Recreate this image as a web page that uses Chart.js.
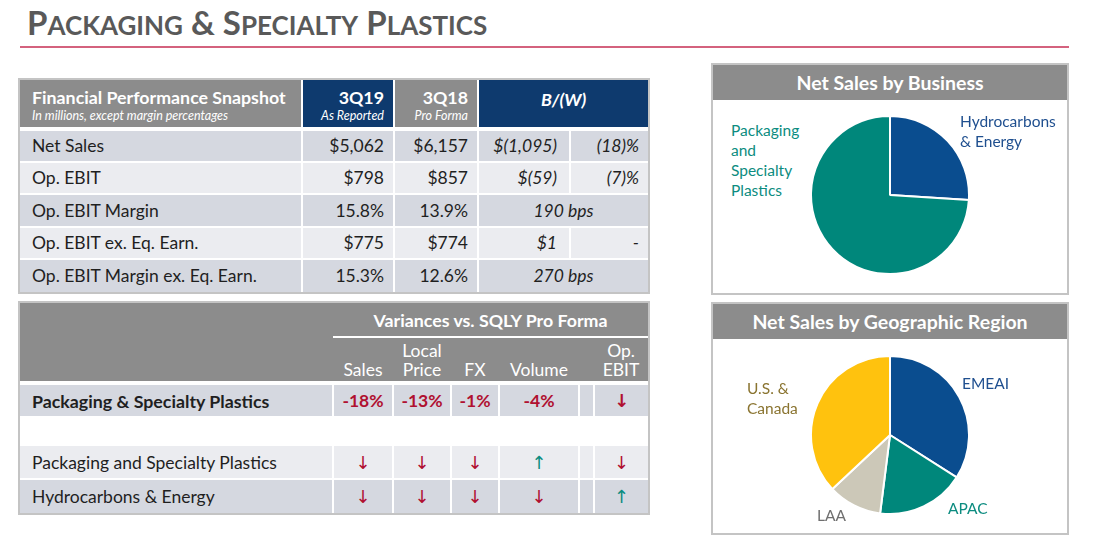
<!DOCTYPE html>
<html>
<head>
<meta charset="utf-8">
<script src="https://cdn.jsdelivr.net/npm/chart.js@4.4.1/dist/chart.umd.min.js"></script>
<style>
  body { margin: 0; width: 1094px; height: 537px; background: #fff; font-family: Lato, "Open Sans", sans-serif; position: relative; overflow: hidden; }
  .title { position: absolute; left: 27px; top: 2px; font-size: 33px; font-weight: bold; color: #595959; letter-spacing: 0px; }
  .title span { font-size: 26px; }
  .rule { position: absolute; left: 20px; top: 46px; width: 1049px; height: 2px; background: #d4627e; }
  table { position: absolute; border-collapse: collapse; table-layout: fixed; outline: 2px solid #c4c4c4; }
  td { padding: 0 9px; font-size: 17.5px; color: #1f1f1f; white-space: nowrap; border-left: 2px solid #fff; border-top: 2px solid #fff; }
  td:first-child { border-left: none; padding-left: 12px; }
  .hd td { background: #8c8c8c; color: #fff; border-top: none; }
  .navy { background: #0e3a6e !important; }
  .dark td { background: #d5d8e0; }
  .light td { background: #ebecf0; }
  .r { text-align: right; }
  .c { text-align: center; }
  .i { font-style: italic; }
  .big { font-weight: bold; font-size: 17.8px; }
  .sub { font-style: italic; font-size: 12.5px; }
  .neg { color: #b01030; font-weight: bold; }
  .dn { color: #b01030; font-family: "DejaVu Sans", sans-serif; font-size: 18px; }
  .up { color: #0c8c80; font-family: "DejaVu Sans", sans-serif; font-size: 18px; }
  .panel { position: absolute; left: 711px; width: 354px; border: 2px solid #c4c4c4; background: #fff; }
  .panel .ph { background: #8c8c8c; color: #fff; font-weight: bold; font-size: 19.5px; text-align: center; height: 35px; line-height: 35px; }
  .pie { position: absolute; }
  .lbl { position: absolute; font-size: 15.5px; line-height: 20px; }
</style>
</head>
<body>
<div class="title">P<span>ACKAGING</span> &amp; S<span>PECIALTY</span> P<span>LASTICS</span></div>
<div class="rule"></div>

<table id="snap" style="left:20px; top:80px; width:628px;">
  <colgroup><col style="width:282px"><col style="width:92px"><col style="width:84px"><col style="width:92px"><col style="width:78px"></colgroup>
</table>

<table id="vari" style="left:20px; top:303px; width:628px;">
  <colgroup><col style="width:313px"><col style="width:60px"><col style="width:58px"><col style="width:48px"><col style="width:80px"><col style="width:15px"><col style="width:54px"></colgroup>
</table>

<div class="panel" style="top:63px; height:228px;"><div class="ph">Net Sales by Business</div></div>
<div class="panel" style="top:302px; height:229px;"><div class="ph">Net Sales by Geographic Region</div></div>

<div class="pie" style="left:810px; top:115px; width:160px; height:160px;"><canvas id="bizPie"></canvas></div>
<div class="pie" style="left:810px; top:355px; width:160px; height:160px;"><canvas id="geoPie"></canvas></div>

<div class="lbl" style="left:731px; top:120px; color:#0c8c80;">Packaging<br>and<br>Specialty<br>Plastics</div>
<div class="lbl" style="left:960px; top:111px; color:#1f4f8f;">Hydrocarbons<br>&amp; Energy</div>
<div class="lbl" style="left:962px; top:373px; color:#1f4f8f;">EMEAI</div>
<div class="lbl" style="left:948px; top:498px; color:#0c8c80;">APAC</div>
<div class="lbl" style="left:817px; top:505px; color:#6f6f6f;">LAA</div>
<div class="lbl" style="left:747px; top:378px; color:#8a7430;">U.S. &amp;<br>Canada</div>

<script>
// Financial Performance Snapshot
const snapRows = ['Net Sales', 'Op. EBIT', 'Op. EBIT Margin', 'Op. EBIT ex. Eq. Earn.', 'Op. EBIT Margin ex. Eq. Earn.'];
const q319 = ['$5,062', '$798', '15.8%', '$775', '15.3%'];
const q318 = ['$6,157', '$857', '13.9%', '$774', '12.6%'];
const bwAmount = ['$(1,095)', '$(59)', '190 bps', '$1', '270 bps'];
const bwPercent = ['(18)%', '(7)%', null, '-', null];

// Variances vs. SQLY Pro Forma
const varCols = ['Sales', 'Local<br>Price', 'FX', 'Volume', '', 'Op.<br>EBIT'];
const segTotal = 'Packaging & Specialty Plastics';
const segTotalVals = ['-18%', '-13%', '-1%', '-4%', '', 'down'];
const segRows = ['Packaging and Specialty Plastics', 'Hydrocarbons & Energy'];
const segMoves = [
    ['down', 'down', 'down', 'up', '', 'down'],
    ['down', 'down', 'down', 'down', '', 'up']
];

// Pie shares (%)
const businessLabels = ['Hydrocarbons & Energy', 'Packaging and Specialty Plastics'];
const businessShares = [26, 74];
const regionLabels = ['EMEAI', 'APAC', 'LAA', 'U.S. & Canada'];
const regionShares = [34, 18, 11, 37];

function arrow(m) {
    if (m === 'down') return '<span class="dn">&#8595;</span>';
    if (m === 'up') return '<span class="up">&#8593;</span>';
    return '';
}

// build snapshot table
let html = '<tr class="hd" style="height:49px">' +
    '<td><div class="big" style="margin-top:1px;line-height:22px">Financial Performance Snapshot</div><div class="sub">In millions, except margin percentages</div></td>' +
    '<td class="r navy"><div class="big" style="margin-top:1px;line-height:22px">3Q19</div><div class="sub">As Reported</div></td>' +
    '<td class="r"><div class="big" style="margin-top:1px;line-height:22px">3Q18</div><div class="sub">Pro Forma</div></td>' +
    '<td class="c navy i big" colspan="2" style="vertical-align:top;padding-top:8px">B/(W)</td></tr>';
snapRows.forEach((name, i) => {
    const cls = i % 2 === 0 ? 'dark' : 'light';
    const top = i === 0 ? 'border-top:4px solid #fff;' : '';
    html += `<tr class="${cls}" style="height:32.5px"><td style="${top}">${name}</td>` +
        `<td class="r" style="${top}">${q319[i]}</td><td class="r" style="${top}">${q318[i]}</td>`;
    if (bwPercent[i] === null) {
        html += `<td class="c i" colspan="2" style="${top}">${bwAmount[i]}</td>`;
    } else {
        html += `<td class="r i" style="${top}padding-right:12px">${bwAmount[i]}</td><td class="r i" style="${top}">${bwPercent[i]}</td>`;
    }
    html += '</tr>';
});
document.getElementById('snap').insertAdjacentHTML('beforeend', html);

// build variance table
let vh = '<tr class="hd" style="height:34px"><td></td>' +
    '<td colspan="6" class="c big" style="border-left:none;border-bottom:2px solid #fff">Variances vs. SQLY Pro Forma</td></tr>';
vh += '<tr class="hd" style="height:46px"><td></td>' +
    varCols.map(c => `<td class="c" style="vertical-align:bottom;padding:0 0 2px 0;line-height:19px;border-left:none">${c}</td>`).join('') + '</tr>';
vh += `<tr class="dark" style="height:34px"><td class="big" style="border-top:4px solid #fff">${segTotal}</td>` +
    segTotalVals.map(v => `<td class="c neg" style="border-top:4px solid #fff;padding:0">${v === 'down' ? arrow(v) : v}</td>`).join('') + '</tr>';
vh += '<tr style="height:28px"><td colspan="7" style="background:#fff"></td></tr>';
segRows.forEach((name, i) => {
    const cls = i % 2 === 0 ? 'light' : 'dark';
    vh += `<tr class="${cls}" style="height:34px"><td>${name}</td>` +
        segMoves[i].map(m => `<td class="c" style="padding:0">${arrow(m)}</td>`).join('') + '</tr>';
});
document.getElementById('vari').insertAdjacentHTML('beforeend', vh);

// pies
function createPie(ctx, labels, values, colors) {
    return new Chart(ctx, {
        type: 'pie',
        data: {
            labels: labels,
            datasets: [{
                data: values,
                backgroundColor: colors,
                borderColor: '#ffffff',
                borderWidth: 2
            }]
        },
        options: {
            responsive: true,
            maintainAspectRatio: false,
            animation: false,
            layout: { padding: 0 },
            plugins: {
                legend: { display: false },
                tooltip: { enabled: false }
            }
        }
    });
}

createPie(document.getElementById('bizPie'), businessLabels, businessShares, ['#0a4d8f', '#00877b']);
createPie(document.getElementById('geoPie'), regionLabels, regionShares, ['#0a4d8f', '#00877b', '#ccc8b8', '#ffc20e']);
</script>
</body>
</html>
